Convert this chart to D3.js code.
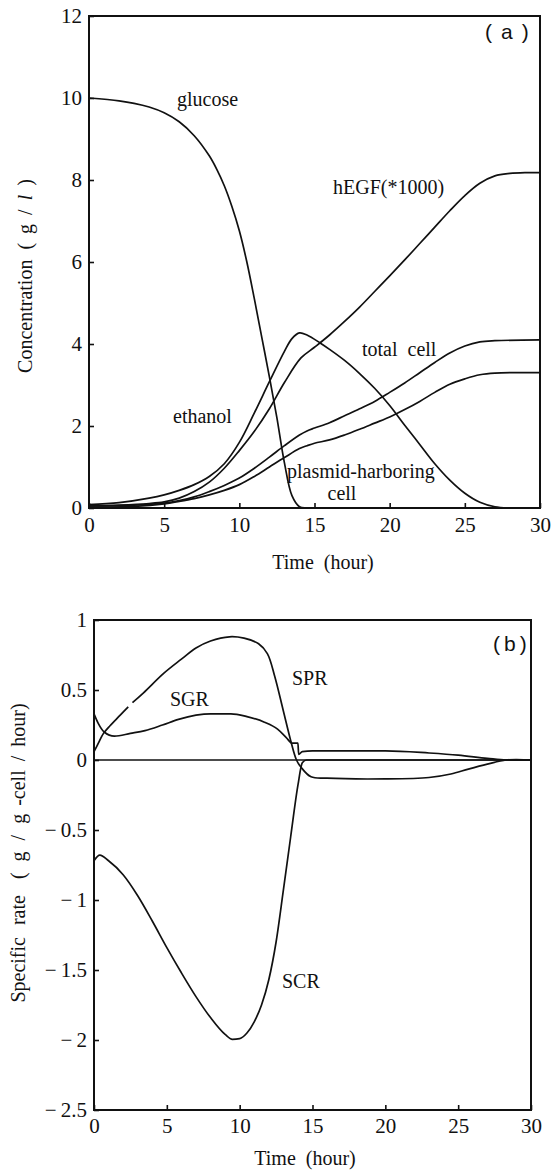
<!DOCTYPE html>
<html>
<head>
<meta charset="utf-8">
<script src="https://cdn.jsdelivr.net/npm/d3@7"></script>
<style>
  body { margin: 0; background: #fff; }
  svg text { font-family: "Liberation Serif", "DejaVu Serif", "Times New Roman", serif; fill: #111; }
</style>
</head>
<body>
<svg id="chart"></svg>
<script>
// time axis shared by both panels
const timeTicks = [0, 5, 10, 15, 20, 25, 30];
const concTicks = [0, 2, 4, 6, 8, 10, 12];
const rateTicks = [1, 0.5, 0, -0.5, -1, -1.5, -2, -2.5];

// panel (a): concentration, g/l  [hour, value]
const glucose = [[0,10],[2,9.93],[3,9.87],[4,9.78],[5,9.64],[6,9.42],[7,9.08],[8,8.59],[8.5,8.26],[9,7.86],[9.5,7.36],[10,6.76],[10.5,6.0],[11,5.1],[11.5,4.15],[12,3.2],[12.5,2.2],[13,1.1],[13.5,0.3],[14,0.03],[14.5,0],[16,0],[30,0]];
const ethanol = [[0,0.08],[2,0.13],[4,0.24],[5,0.32],[6,0.43],[7,0.57],[8,0.77],[9,1.08],[10,1.6],[11,2.32],[12,3.08],[13,3.82],[13.5,4.13],[14,4.27],[14.5,4.22],[15.4,4.02],[16,3.87],[17,3.6],[18,3.28],[19,2.92],[20,2.5],[21,2.02],[22,1.55],[23,1.08],[24,0.68],[25,0.36],[26,0.14],[27,0.03],[28,0],[30,0]];
const hEGF = [[0,0.05],[2,0.07],[4,0.11],[5,0.15],[6,0.24],[7,0.4],[8,0.63],[9,0.97],[10,1.4],[11,1.87],[12,2.42],[13,3.06],[14.1,3.66],[15,3.92],[16,4.22],[17,4.55],[18,4.9],[19,5.28],[20,5.66],[21,6.05],[22,6.45],[23,6.85],[24,7.25],[25,7.62],[26,7.92],[27,8.1],[28,8.16],[29,8.18],[30,8.18]];
const totalCell = [[0,0.05],[3,0.07],[5,0.12],[6,0.18],[7,0.27],[8,0.4],[9,0.55],[10,0.73],[11,0.97],[12,1.24],[13,1.52],[14,1.78],[14.5,1.88],[15,1.95],[16,2.08],[17,2.25],[18,2.42],[19,2.6],[20,2.82],[21,3.05],[22,3.3],[23,3.55],[24,3.78],[25,3.95],[26,4.05],[27,4.08],[30,4.1]];
const plasmidCell = [[0,0.02],[3,0.04],[5,0.1],[6,0.16],[7,0.23],[8,0.32],[9,0.43],[10,0.57],[11,0.77],[12,1.0],[13,1.23],[14,1.45],[14.5,1.52],[15,1.58],[16,1.66],[17,1.78],[18,1.92],[19,2.07],[20,2.22],[21,2.4],[22,2.6],[23,2.82],[24,3.02],[25,3.15],[26,3.25],[27,3.29],[30,3.3]];

// panel (b): specific rate, g/g-cell/hour  [hour, value]
const spr = [[0,0.06],[0.3,0.12],[0.65,0.19],[1.1,0.245],[1.8,0.32],[2.35,0.38],[2.5,null],[2.64,0.41],[3.4,0.48],[4.8,0.62],[6,0.72],[7,0.8],[8,0.85],[9.3,0.88],[10.3,0.87],[11.3,0.83],[11.9,0.76],[12.4,0.6],[13,0.35],[13.5,0.14],[13.9,0],[14.2,-0.05],[14.9,-0.12],[16,-0.13],[20,-0.135],[23,-0.125],[24.5,-0.1],[25.7,-0.065],[27,-0.03],[28.3,0],[30,0]];
const sgr = [[0,0.33],[0.3,0.26],[0.7,0.2],[1.4,0.17],[2.5,0.19],[3.5,0.21],[4.7,0.25],[5.8,0.29],[7,0.32],[8,0.33],[9.4,0.33],[10.5,0.31],[11.7,0.27],[12.6,0.22],[13.2,0.16],[13.6,0.12],[14,0.12],[14.05,0.04],[14.3,0.06],[15,0.065],[20,0.065],[23,0.05],[25,0.035],[27,0.012],[28.3,0],[30,0]];
const scr = [[0,-0.72],[0.4,-0.68],[1,-0.72],[2,-0.82],[3,-0.97],[4,-1.15],[5,-1.34],[6,-1.52],[7,-1.69],[8,-1.84],[9,-1.96],[9.5,-1.995],[10,-1.99],[10.5,-1.95],[11,-1.87],[11.5,-1.75],[12,-1.57],[12.5,-1.3],[13,-0.93],[13.5,-0.55],[14,-0.18],[14.3,-0.02],[14.6,0],[15.5,0],[30,0]];
const zeroLine = [[0,0],[30,0]];

const width = 553;
const height = 1174;
const serif = '"Liberation Serif", "DejaVu Serif", "Times New Roman", serif';

const svg = d3.select('#chart')
  .attr('width', width)
  .attr('height', height);

// long minus as in the printed figure
const fmt = d => d < 0 ? '\u2212\u2009' + Math.abs(d) : String(d);

function panel(xRange, yDomain, yRange, yTicks, xPad) {
  const x = d3.scaleLinear().domain([0, 30]).range(xRange);
  const y = d3.scaleLinear().domain(yDomain).range(yRange);
  const g = svg.append('g');

  g.append('rect')
    .attr('x', xRange[0]).attr('y', yRange[1])
    .attr('width', xRange[1] - xRange[0]).attr('height', yRange[0] - yRange[1])
    .attr('fill', 'none').attr('stroke', '#111').attr('stroke-width', 2);

  const ax = g.append('g')
    .attr('transform', 'translate(0,' + yRange[0] + ')')
    .call(d3.axisBottom(x).tickValues(timeTicks).tickFormat(fmt)
      .tickSizeInner(-5).tickSizeOuter(0).tickPadding(xPad));
  const ay = g.append('g')
    .attr('transform', 'translate(' + xRange[0] + ',0)')
    .call(d3.axisLeft(y).tickValues(yTicks).tickFormat(fmt)
      .tickSizeInner(-5).tickSizeOuter(0).tickPadding(7));

  [ax, ay].forEach(a => {
    a.attr('font-family', serif).attr('font-size', 21);
    a.select('.domain').remove();
    a.selectAll('line').attr('stroke', '#111').attr('stroke-width', 1.6);
    a.selectAll('text').attr('fill', '#111');
  });

  return { x, y, g };
}

function curves(p, series, curve) {
  const line = d3.line()
    .defined(d => d[1] !== null)
    .x(d => p.x(d[0]))
    .y(d => p.y(d[1]))
    .curve(curve);
  p.g.selectAll(null)
    .data(series)
    .enter().append('path')
      .attr('class', 'curve')
      .attr('d', line)
      .attr('fill', 'none')
      .attr('stroke', '#111')
      .attr('stroke-width', 1.7);
}

function label(txt, x, y, opts) {
  const t = svg.append('text')
    .attr('x', x).attr('y', y)
    .style('font-size', '20px')
    .style('white-space', 'pre')
    .text(txt);
  if (opts && opts.anchor) t.attr('text-anchor', opts.anchor);
  if (opts && opts.sans) t.style('font-family', '"Liberation Sans", Arial, sans-serif');
  if (opts && opts.spacing) t.style('letter-spacing', opts.spacing + 'px');
  return t;
}

// (a)
const pa = panel([89, 540], [0, 12], [508, 16], concTicks, 9);
curves(pa, [glucose, ethanol, hEGF, totalCell, plasmidCell], d3.curveCatmullRom.alpha(0.5));

label('glucose', 177, 106);
label('hEGF(*1000)', 333, 194);
label('total  cell', 362, 356);
label('ethanol', 173, 423);
label('plasmid-harboring', 287, 478);
label('cell', 342, 500, { anchor: 'middle' });
label('(a)', 485, 39, { sans: true, spacing: 9 }).style('font-size', '21px');

label('Time  (hour)', 323, 569, { anchor: 'middle' });

const ta = svg.append('text')
  .attr('transform', 'translate(32,276) rotate(-90)')
  .attr('text-anchor', 'middle')
  .style('font-size', '20px');
ta.append('tspan').text('Concentration');
ta.append('tspan').attr('dx', 10).text('(');
ta.append('tspan').attr('dx', 9).text('g');
ta.append('tspan').attr('dx', 9).text('/');
ta.append('tspan').attr('dx', 9).style('font-style', 'italic').text('l');
ta.append('tspan').attr('dx', 9).text(')');

// (b)
const pb = panel([94, 531], [-2.5, 1], [1110, 620], rateTicks, 8);
curves(pb, [zeroLine, spr], d3.curveCatmullRom.alpha(0.5));
curves(pb, [sgr, scr], d3.curveMonotoneX);

label('SGR', 170, 706);
label('SPR', 292, 685);
label('SCR', 282, 988);
label('(b)', 493, 651, { sans: true, spacing: 4 }).style('font-size', '21px');

label('Time  (hour)', 305, 1165, { anchor: 'middle' });

const tb = svg.append('text')
  .attr('transform', 'translate(25,853) rotate(-90)')
  .attr('text-anchor', 'middle')
  .style('font-size', '20px');
tb.append('tspan').text('Specific');
tb.append('tspan').attr('dx', 12).text('rate');
tb.append('tspan').attr('dx', 16).text('(');
tb.append('tspan').attr('dx', 11).text('g');
tb.append('tspan').attr('dx', 11).text('/');
tb.append('tspan').attr('dx', 11).text('g');
tb.append('tspan').attr('dx', 8).text('-cell');
tb.append('tspan').attr('dx', 9).text('/');
tb.append('tspan').attr('dx', 9).text('hour)');
</script>
</body>
</html>
